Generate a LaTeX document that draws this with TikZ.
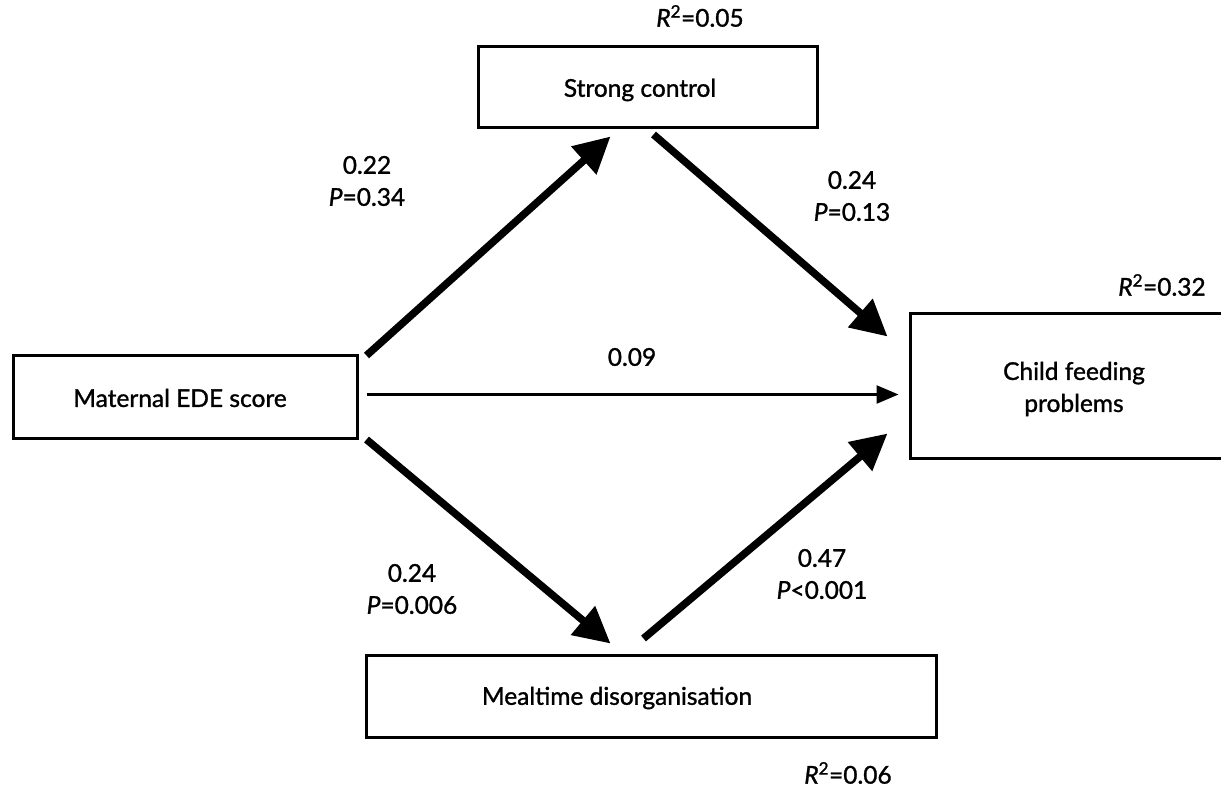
\documentclass[tikz,border=0pt]{standalone}
\usepackage{fontspec}
\setmainfont{Lato}[BoldFont=Lato, BoldItalicFont=Lato Italic, BoldFeatures={FakeBold=1.2}, BoldItalicFeatures={FakeBold=1.2}]
\usetikzlibrary{arrows.meta,calc}
\tikzset{
  boxnode/.style={draw=black, line width=3pt, fill=white, inner sep=0pt, align=center},
  lbl/.style={inner sep=0pt, align=center, font=\fontsize{24.5}{32}\selectfont\bfseries},
  bigarrow/.style={line width=7.5pt, -{Triangle[length=36pt,width=36pt]}},
  thinarrow/.style={line width=2.5pt, -{Triangle[length=22pt,width=18pt]}}
}
\begin{document}
\begin{tikzpicture}[x=1pt,y=-1pt]
\clip (0,0) rectangle (1221,789);
\fill[white] (0,0) rectangle (1221,789);
% boxes
\node[boxnode, minimum width=344pt, minimum height=83pt] (mat) at (185,396.5) {};
\node[lbl] (mattxt) at (180,398) {Maternal EDE score};
\node[boxnode, minimum width=339pt, minimum height=81pt] (strong) at (647.5,87.5) {};
\node[lbl] (strongtxt) at (640,90) {Strong control};
\node[boxnode, minimum width=328pt, minimum height=145pt] (child) at (1074,385.5) {};
\node[lbl] (childtxt) at (1074,389) {Child feeding\\problems};
\node[boxnode, minimum width=570pt, minimum height=82pt] (meal) at (651,696) {};
\node[lbl] (mealtxt) at (617,698) {Mealtime disorganisation};
% connector end points
\coordinate (a1s) at ($(mat.north east)+(8,2)$);
\coordinate (a1e) at ($(strong.south west)+(134,7)$);
\coordinate (a2s) at ($(strong.south west)+(177,5)$);
\coordinate (a2e) at ($(child.north west)+(-21,25)$);
\coordinate (a3s) at ($(mat.east)+(8,-2)$);
\coordinate (a3e) at ($(child.west)+(-10,9)$);
\coordinate (a4s) at ($(mat.south east)+(8,0)$);
\coordinate (a4e) at ($(meal.north west)+(246,-10)$);
\coordinate (a5s) at ($(meal.north west)+(279,-15)$);
\coordinate (a5e) at ($(child.south west)+(-21,-26)$);
% connectors
\draw[bigarrow] (a1s) -- (a1e);
\draw[bigarrow] (a2s) -- (a2e);
\draw[thinarrow] (a3s) -- (a3e);
\draw[bigarrow] (a4s) -- (a4e);
\draw[bigarrow] (a5s) -- (a5e);
% labels
\node[lbl] (r1) at (700,16) {\textit{R}\textsuperscript{2}=0.05};
\node[lbl] (l1) at (367,181) {0.22\\\textit{P}=0.34};
\node[lbl] (l2) at (852,196) {0.24\\\textit{P}=0.13};
\node[lbl] (r4) at (1162,285) {\textit{R}\textsuperscript{2}=0.32};
\node[lbl] (l3) at (632,357) {0.09};
\node[lbl] (l4) at (412,589) {0.24\\\textit{P}=0.006};
\node[lbl] (l5) at (822,574) {0.47\\\textit{P}<0.001};
\node[lbl] (r3) at (848,773) {\textit{R}\textsuperscript{2}=0.06};
\end{tikzpicture}
\end{document}
